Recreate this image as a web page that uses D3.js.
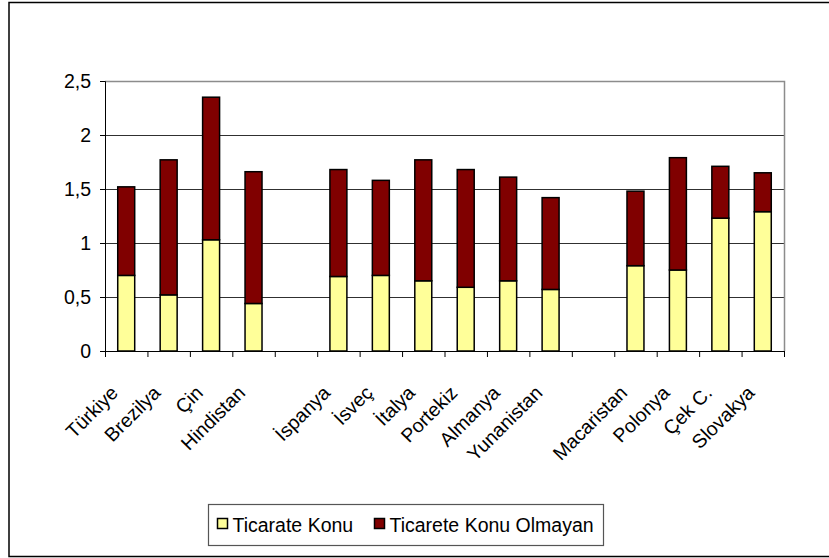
<!DOCTYPE html>
<html>
<head>
<meta charset="utf-8">
<script src="https://cdn.jsdelivr.net/npm/d3@7"></script>
<style>
  body { margin: 0; background: #fff; }
  text { font-family: "Liberation Sans", Arial, sans-serif; fill: #000; }
</style>
</head>
<body>
<svg id="chart" width="829" height="558"></svg>
<script>
// categories (empty slots are the gaps between country groups)
const categories = ["Türkiye", "Brezilya", "Çin", "Hindistan", "",
  "İspanya", "İsveç", "İtalya", "Portekiz", "Almanya", "Yunanistan", "",
  "Macaristan", "Polonya", "Çek C.", "Slovakya"];
const ticaretKonu = [0.70, 0.52, 1.03, 0.44, 0,
  0.69, 0.70, 0.65, 0.59, 0.65, 0.57, 0,
  0.79, 0.75, 1.23, 1.29];
const ticaretOlmayan = [0.82, 1.25, 1.32, 1.22, 0,
  0.99, 0.88, 1.12, 1.09, 0.96, 0.85, 0,
  0.69, 1.04, 0.48, 0.36];
const seriesNames = ["Ticarate Konu", "Ticarete Konu Olmayan"];
const yTicks = [0, 0.5, 1, 1.5, 2, 2.5];

const PLOT = { left: 105, right: 784, top: 81, bottom: 351 };
const colors = ["#FFFF99", "#800000"];
const FONT_SIZE = "19.5px";

const svg = d3.select("#chart");

// outer frame
svg.append("rect")
  .attr("x", 9).attr("y", 2.5)
  .attr("width", 830).attr("height", 554)
  .attr("fill", "none").attr("stroke", "#000").attr("stroke-width", 1.5);

const x = d3.scaleBand()
  .domain(d3.range(categories.length))
  .range([PLOT.left, PLOT.right])
  .paddingInner(0.6).paddingOuter(0.3);

const xb = d3.scaleLinear()
  .domain([0, categories.length])
  .range([PLOT.left, PLOT.right]);

const y = d3.scaleLinear()
  .domain([0, 2.5])
  .range([PLOT.bottom, PLOT.top]);

// gridlines
svg.append("g")
  .selectAll("line")
  .data(yTicks.filter(d => d > 0 && d < 2.5))
  .join("line")
  .attr("x1", PLOT.left).attr("x2", PLOT.right)
  .attr("y1", d => Math.round(y(d)) + 0.5).attr("y2", d => Math.round(y(d)) + 0.5)
  .attr("stroke", "#303030");

// plot border top and right
svg.append("path")
  .attr("d", `M${PLOT.left},${PLOT.top + 0.5}H${PLOT.right + 0.5}V${PLOT.bottom}`)
  .attr("fill", "none").attr("stroke", "#8c8c8c").attr("stroke-width", 1.5);

// stacked bars
const stackData = categories.map((c, i) => ({ i, a: ticaretKonu[i], b: ticaretOlmayan[i] }));
const stacked = d3.stack().keys(["a", "b"])(stackData);

svg.append("g")
  .selectAll("g")
  .data(stacked)
  .join("g")
  .attr("fill", (d, k) => colors[k])
  .selectAll("rect")
  .data(d => d.filter(s => s[1] > s[0]))
  .join("rect")
  .attr("x", d => x(d.data.i))
  .attr("width", x.bandwidth())
  .attr("y", d => y(d[1]))
  .attr("height", d => y(d[0]) - y(d[1]))
  .attr("stroke", "#000")
  .attr("stroke-width", 1.5);

// y axis
const yAxis = svg.append("g")
  .attr("transform", `translate(${PLOT.left},0)`)
  .call(d3.axisLeft(y).tickValues(yTicks).tickSize(5).tickPadding(9)
    .tickFormat(d => String(d).replace(".", ",")));
yAxis.select(".domain").attr("stroke", "#000");
yAxis.selectAll(".tick line").attr("stroke", "#000");
yAxis.selectAll("text").style("font-size", FONT_SIZE)
  .style("font-family", "'Liberation Sans', Arial, sans-serif");

// x axis: baseline plus ticks at band boundaries
const xAxis = svg.append("g")
  .attr("transform", `translate(0,${PLOT.bottom})`)
  .call(d3.axisBottom(xb).tickValues(d3.range(categories.length + 1)).tickSize(6).tickFormat(""));
xAxis.select(".domain").attr("stroke", "#000");
xAxis.selectAll(".tick line").attr("stroke", "#000");

// rotated category labels
svg.append("g")
  .selectAll("text")
  .data(categories.map((c, i) => ({ c, i })).filter(d => d.c !== ""))
  .join("text")
  .attr("transform", d => `translate(${x(d.i) + x.bandwidth() / 2 - 7},${PLOT.bottom + 43}) rotate(-45)`)
  .attr("text-anchor", "end")
  .style("font-size", FONT_SIZE)
  .text(d => d.c);

// legend
const legend = svg.append("g").attr("transform", "translate(208.5,504.5)");
legend.append("rect")
  .attr("width", 395).attr("height", 41)
  .attr("fill", "#fff").attr("stroke", "#555").attr("stroke-width", 1.2);

const legendX = [9, 166];
const legendItems = legend.selectAll("g.item")
  .data(seriesNames)
  .join("g")
  .attr("class", "item")
  .attr("transform", (d, i) => `translate(${legendX[i]},0)`);
legendItems.append("rect")
  .attr("x", 0).attr("y", 14)
  .attr("width", 10).attr("height", 10)
  .attr("fill", (d, i) => colors[i])
  .attr("stroke", "#000").attr("stroke-width", 1.5);
legendItems.append("text")
  .attr("x", 15).attr("y", 27)
  .style("font-size", FONT_SIZE)
  .text(d => d);
</script>
</body>
</html>
